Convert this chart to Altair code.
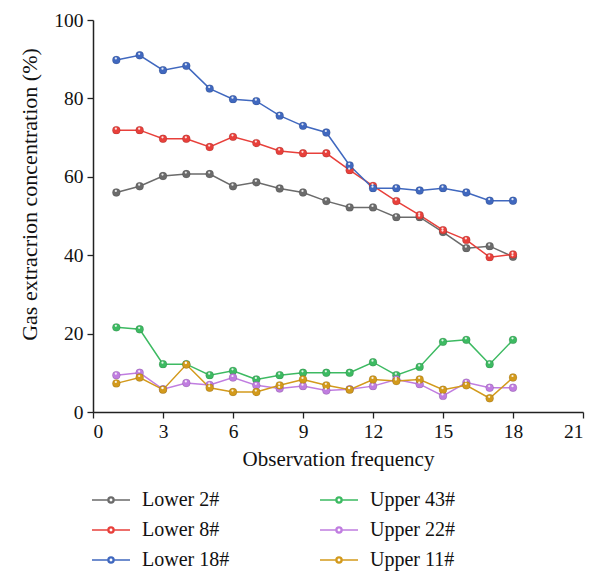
import altair as alt
import pandas as pd

obs = list(range(1, 19))
series_names = ["Lower 2#", "Lower 8#", "Lower 18#", "Upper 43#", "Upper 22#", "Upper 11#"]
lower_2 = [56.0, 57.6, 60.2, 60.7, 60.7, 57.6, 58.6, 57.0, 56.0, 53.8, 52.2, 52.2, 49.7, 49.7, 45.9, 41.8, 42.3, 39.6]
lower_8 = [71.9, 71.9, 69.7, 69.7, 67.6, 70.2, 68.6, 66.6, 66.0, 66.0, 61.7, 57.7, 53.8, 50.2, 46.4, 43.9, 39.5, 40.2]
lower_18 = [89.8, 91.0, 87.2, 88.3, 82.5, 79.8, 79.3, 75.6, 73.0, 71.3, 62.9, 57.1, 57.1, 56.5, 57.1, 56.0, 53.9, 53.9]
upper_43 = [21.6, 21.1, 12.2, 12.2, 9.4, 10.5, 8.3, 9.4, 10.0, 10.0, 10.0, 12.7, 9.4, 11.5, 17.9, 18.4, 12.2, 18.4]
upper_22 = [9.4, 10.0, 5.8, 7.4, 6.9, 8.8, 6.8, 6.0, 6.6, 5.5, 5.8, 6.6, 8.3, 7.1, 4.1, 7.5, 6.2, 6.2]
upper_11 = [7.3, 8.8, 5.7, 12.1, 6.2, 5.1, 5.1, 6.8, 8.3, 6.8, 5.7, 8.3, 7.9, 8.3, 5.7, 6.8, 3.5, 8.8]
colors = ["#6b6b6b", "#e8403b", "#4068bf", "#3dba62", "#c07de0", "#d39a1c"]

x_ticks = [i * 1.5 for i in range(15)]
y_ticks = [i * 10 for i in range(11)]

all_vals = [lower_2, lower_8, lower_18, upper_43, upper_22, upper_11]
rows = []
for name, vals in zip(series_names, all_vals):
    for o, v in zip(obs, vals):
        rows.append({"obs": o, "value": v, "series": name})
df = pd.DataFrame(rows)

FONT = "Liberation Serif"

x_enc = alt.X(
    "obs:Q",
    scale=alt.Scale(domain=[0, 21], nice=False),
    axis=alt.Axis(
        title="Observation frequency",
        values=x_ticks,
        labelExpr="datum.value % 3 === 0 ? datum.label : ''",
        tickSize={"condition": {"test": "datum.value % 3 === 0", "value": 6}, "value": 3},
        grid=False,
    ),
)
y_enc = alt.Y(
    "value:Q",
    scale=alt.Scale(domain=[0, 100], nice=False),
    axis=alt.Axis(
        title="Gas extracrion concentration (%)",
        titleY=174,
        values=y_ticks,
        labelExpr="datum.value % 20 === 0 ? datum.label : ''",
        tickSize={"condition": {"test": "datum.value % 20 === 0", "value": 6}, "value": 3},
        grid=False,
    ),
)

# line segments + ring (outer clockwise, inner counter-clockwise leaves a hollow centre)
legend_path = (
    "M-1.9,0L-0.3,0M0.3,0L1.9,0"
    "M-0.3,0A0.3,0.3,0,1,1,0.3,0A0.3,0.3,0,1,1,-0.3,0Z"
    "M-0.22,0A0.22,0.22,0,1,0,0.22,0A0.22,0.22,0,1,0,-0.22,0Z"
)

base = alt.Chart(df)
lines = base.mark_line(strokeWidth=1.5, filled=False).encode(
    x=x_enc,
    y=y_enc,
    stroke=alt.Stroke(
        "series:N",
        scale=alt.Scale(domain=series_names, range=colors),
        legend=alt.Legend(
            title=None,
            orient="none",
            legendX=7,
            legendY=469,
            columns=2,
            symbolType=legend_path,
            symbolSize=400,
            symbolStrokeWidth=1.5,
            labelOffset=20,
            columnPadding=87,
            rowPadding=9,
            labelFont=FONT,
            labelFontSize=20,
            labelColor="#111111",
            labelLimit=300,
        ),
    ),
    detail="series:N",
)
points = base.mark_circle(size=62, opacity=1, stroke="#00000033", strokeWidth=0.6).encode(
    x="obs:Q",
    y="value:Q",
    fill=alt.Fill("series:N", scale=alt.Scale(domain=series_names, range=colors), legend=None),
)
highlights = base.mark_circle(size=5, color="white", opacity=0.85, xOffset=-0.5, yOffset=-1.5).encode(
    x="obs:Q",
    y="value:Q",
)

chart = (
    alt.layer(lines, points, highlights)
    .properties(
        width=490,
        height=392,
        autosize=alt.AutoSizeParams(type="none"),
        padding={"left": 85, "top": 12, "right": 9, "bottom": 160},
    )
    .configure_view(stroke=None)
    .configure_axis(
        domainColor="#222222",
        domainWidth=1.5,
        tickColor="#222222",
        tickWidth=1.3,
        labelFont=FONT,
        labelFontSize=19.5,
        labelColor="#111111",
        labelPadding=4,
        titleFont=FONT,
        titleFontWeight="normal",
        titleColor="#111111",
    )
    .configure_axisX(titlePadding=8, titleFontSize=21)
    .configure_axisY(titlePadding=12, titleFontSize=22)
)

chart.save("out.html", embed_options={"renderer": "svg", "actions": False})
